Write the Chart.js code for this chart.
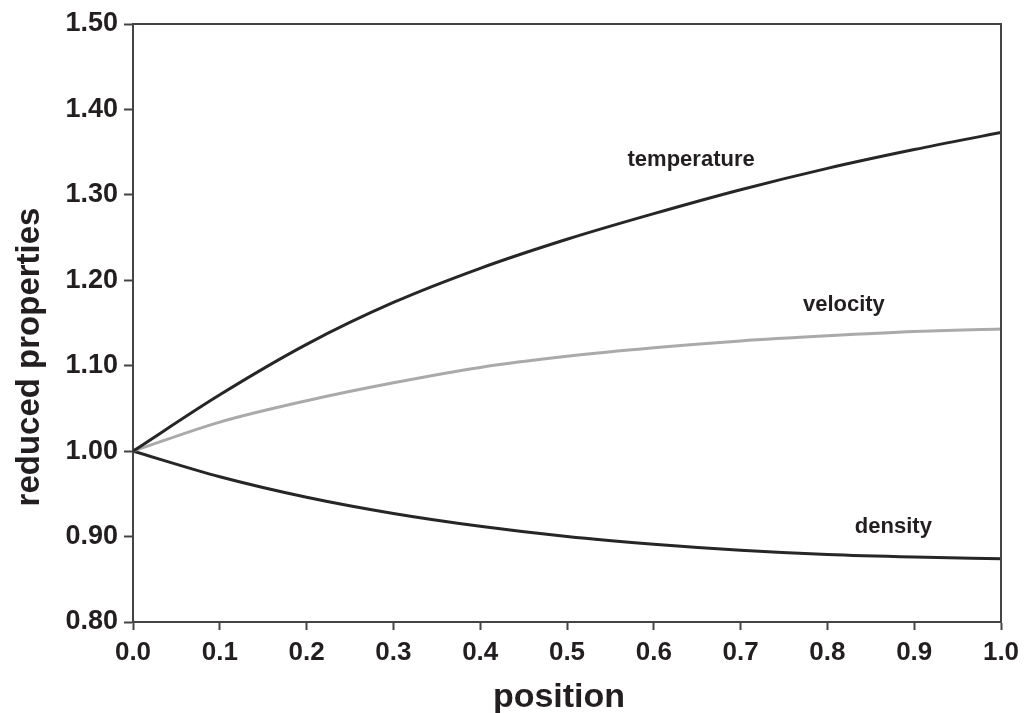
<!DOCTYPE html>
<html>
<head>
<meta charset="utf-8">
<script src="https://cdn.jsdelivr.net/npm/chart.js@4.4.1/dist/chart.umd.min.js"></script>
<style>
  html, body { margin: 0; padding: 0; background: #fff; }
  #wrap { width: 1024px; height: 713px; position: relative; }
</style>
</head>
<body>
<div id="wrap"><canvas id="c" width="1024" height="713"></canvas></div>
<script>
const positions   = [0.0, 0.1, 0.2, 0.3, 0.4, 0.5, 0.6, 0.7, 0.8, 0.9, 1.0];
const temperature = [1.000, 1.066, 1.125, 1.174, 1.214, 1.248, 1.278, 1.306, 1.331, 1.353, 1.373];
const velocity    = [1.000, 1.034, 1.059, 1.080, 1.098, 1.111, 1.121, 1.129, 1.135, 1.140, 1.143];
const density     = [1.000, 0.970, 0.946, 0.927, 0.912, 0.900, 0.891, 0.884, 0.879, 0.876, 0.874];

const xTickLabels = ['0.0','0.1','0.2','0.3','0.4','0.5','0.6','0.7','0.8','0.9','1.0'];
const yTickLabels = ['0.80','0.90','1.00','1.10','1.20','1.30','1.40','1.50'];

const xTitle = 'position';
const yTitle = 'reduced properties';

const curveNames  = ['temperature', 'velocity', 'density'];
const labelX      = [0.643, 0.819, 0.876];
const labelY      = [1.341, 1.171, 0.911];

const TEXT = '#231f20';
const AXIS = '#444';
const FONT = '"Liberation Sans", Arial, sans-serif';

function pts(ys) { return positions.map((x, i) => ({ x: x, y: ys[i] })); }

const framePlugin = {
  id: 'frame',
  afterDatasetsDraw(chart) {
    const { ctx, chartArea: a, scales } = chart;
    ctx.save();
    ctx.strokeStyle = AXIS;
    ctx.lineWidth = 2;
    ctx.beginPath();
    ctx.moveTo(a.left, a.top);
    ctx.lineTo(a.right, a.top);
    ctx.lineTo(a.right, a.bottom);
    ctx.stroke();
    ctx.fillStyle = TEXT;
    ctx.font = 'bold 22px ' + FONT;
    ctx.textAlign = 'center';
    ctx.textBaseline = 'middle';
    curveNames.forEach((n, i) => {
      ctx.fillText(n, scales.x.getPixelForValue(labelX[i]), scales.y.getPixelForValue(labelY[i]));
    });
    // x axis title
    ctx.font = 'bold 34px ' + FONT;
    ctx.textBaseline = 'alphabetic';
    ctx.fillText(xTitle, 559, 707);
    // y axis title
    ctx.font = 'bold 33px ' + FONT;
    ctx.textBaseline = 'middle';
    ctx.translate(30, 357);
    ctx.rotate(-Math.PI / 2);
    ctx.fillText(yTitle, 0, 0);
    ctx.restore();
  }
};

new Chart(document.getElementById('c'), {
  type: 'line',
  data: {
    datasets: [
      { label: 'temperature', data: pts(temperature), borderColor: '#262626', borderWidth: 3, pointRadius: 0, cubicInterpolationMode: 'monotone', fill: false },
      { label: 'velocity', data: pts(velocity), borderColor: '#aaaaaa', borderWidth: 3, pointRadius: 0, cubicInterpolationMode: 'monotone', fill: false },
      { label: 'density', data: pts(density), borderColor: '#262626', borderWidth: 3, pointRadius: 0, cubicInterpolationMode: 'monotone', fill: false }
    ]
  },
  options: {
    responsive: false,
    animation: false,
    events: [],
    layout: { padding: { left: 0, right: 23, top: 24, bottom: 0 } },
    plugins: { legend: { display: false }, tooltip: { enabled: false } },
    scales: {
      x: {
        type: 'linear',
        min: 0, max: 1,
        afterFit(s) { s.height = 91; s.paddingRight = 0; s.paddingLeft = 0; },
        afterBuildTicks(s) { s.ticks = positions.map(v => ({ value: v })); },
        ticks: {
          callback: (v, i) => xTickLabels[i],
          color: TEXT,
          padding: 7,
          font: { family: FONT, size: 26, weight: 'bold' },
          maxRotation: 0, autoSkip: false
        },
        grid: { drawOnChartArea: false, tickLength: 8, tickWidth: 2, tickColor: AXIS },
        border: { color: AXIS, width: 2 },
        title: { display: false }
      },
      y: {
        type: 'linear',
        min: 0.8, max: 1.5,
        afterFit(s) { s.width = 133; s.paddingTop = 0; s.paddingBottom = 0; },
        afterBuildTicks(s) { s.ticks = yTickLabels.map(t => ({ value: parseFloat(t) })); },
        ticks: {
          callback: (v, i) => yTickLabels[i],
          color: TEXT,
          padding: 6,
          font: { family: FONT, size: 27, weight: 'bold' },
          autoSkip: false
        },
        grid: { drawOnChartArea: false, tickLength: 9, tickWidth: 2, tickColor: AXIS },
        border: { color: AXIS, width: 2 },
        title: { display: false }
      }
    }
  },
  plugins: [framePlugin]
});
</script>
</body>
</html>
